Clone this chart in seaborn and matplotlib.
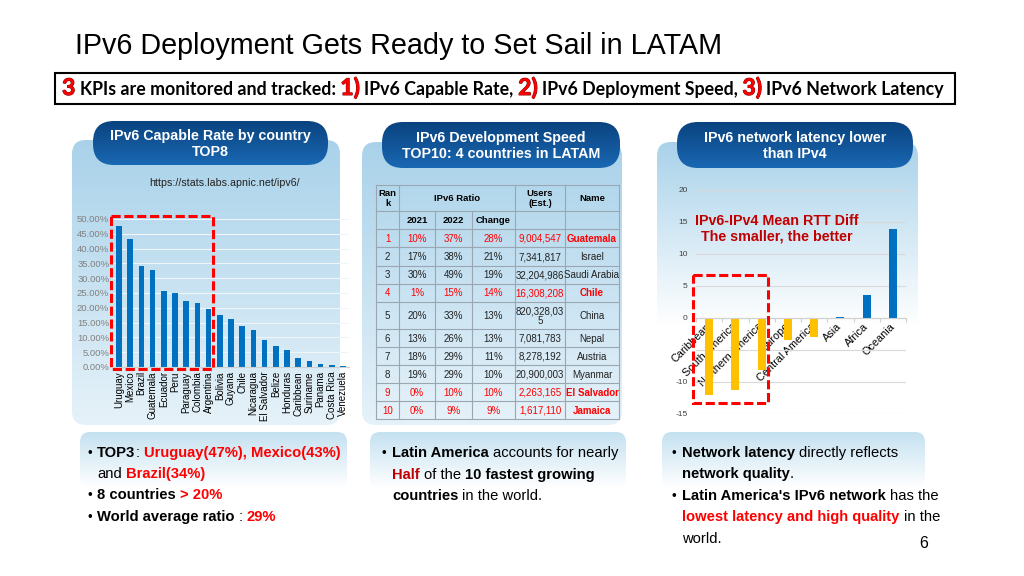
import numpy as np
import seaborn as sns
import matplotlib.pyplot as plt
import matplotlib.patheffects as pe
from matplotlib.patches import FancyBboxPatch, Rectangle
from matplotlib.colors import LinearSegmentedColormap

# ---- data ----
countries = ["Uruguay", "Mexico", "Brazil", "Guatemala", "Ecuador", "Peru", "Paraguay",
             "Colombia", "Argentina", "Bolivia", "Guyana", "Chile", "Nicaragua", "El Salvador",
             "Belize", "Honduras", "Caribbean", "Suriname", "Panama", "Costa Rica", "Venezuela"]
capable_rate = [47.5, 43.3, 34.2, 32.8, 25.6, 24.9, 22.3, 21.7, 19.6, 17.7, 16.1,
                13.7, 12.4, 9.2, 7.0, 5.8, 3.1, 2.0, 1.0, 0.7, 0.4]

regions = ["Caribbean", "South America", "Northern America", "Europe",
           "Central America", "Asia", "Africa", "Oceania"]
rtt_diff = [-12.0, -11.2, -8.1, -3.5, -3.0, 0.2, 3.6, 13.9]

rank = [1, 2, 3, 4, 5, 6, 7, 8, 9, 10]
ratio_2021 = ["10%", "17%", "30%", "1%", "20%", "13%", "18%", "19%", "0%", "0%"]
ratio_2022 = ["37%", "38%", "49%", "15%", "33%", "26%", "29%", "29%", "10%", "9%"]
ratio_change = ["28%", "21%", "19%", "14%", "13%", "13%", "11%", "10%", "10%", "9%"]
users = ["9,004,547", "7,341,817", "32,204,986", "16,308,208", "820,328,035",
         "7,081,783", "8,278,192", "20,900,003", "2,263,165", "1,617,110"]
names = ["Guatemala", "Israel", "Saudi Arabia", "Chile", "China", "Nepal",
         "Austria", "Myanmar", "El Salvador", "Jamaica"]
latam = [True, False, False, True, False, False, False, False, True, True]

W, H = 1024, 576
RED = "#ff0000"
BLUE = "#0070c0"
plt.rcParams['font.family'] = ['Liberation Sans', 'DejaVu Sans']

fig = plt.figure(figsize=(W / 100, H / 100), dpi=100)
renderer = fig.canvas.get_renderer()

bg = fig.add_axes([0, 0, 1, 1], zorder=0)
bg.axis('off')
ov = fig.add_axes([0, 0, 1, 1], zorder=10)
ov.axis('off')


def px_rect(x0, y0, x1, y1):
    return [x0 / W, 1 - y1 / H, (x1 - x0) / W, (y1 - y0) / H]


def panel(x0, y0, x1, y1, top, bottom, r=12, fade=1.0, z=0.5):
    box = FancyBboxPatch((x0, y0), x1 - x0, y1 - y0, fc='none', ec='none',
                         boxstyle=f"round,pad=0,rounding_size={r}")
    bg.add_patch(box)
    t = np.clip(np.linspace(0, 1, 256) / fade, 0, 1)[:, None]
    cmap = LinearSegmentedColormap.from_list('g', [top, bottom])
    im = bg.imshow(t, cmap=cmap, vmin=0, vmax=1, extent=[x0, x1, y1, y0],
                   aspect='auto', zorder=z)
    im.set_clip_path(box)


def text_w(s, **kw):
    t = bg.text(0, 0, s, **kw)
    w = t.get_window_extent(renderer).width
    t.remove()
    return w


def adv(s, **kw):
    # advance width of s, side bearings cancelled by the x...x sandwich
    return text_w('x' + s + 'x', **kw) - text_w('xx', **kw)


def draw_runs(x, y, runs, size, family='Liberation Sans', ax=bg, z=3):
    arts = []
    for run in runs:
        s, color, bold = run[:3]
        scale = run[3] if len(run) > 3 else 1.0
        kw = dict(fontsize=size * scale, family=family,
                  fontweight='bold' if bold else 'normal')
        lead = s[:len(s) - len(s.lstrip())]
        x0 = x + (adv(lead, **kw) if lead else 0)
        t = ax.text(x0, y, s.strip(), color=color, va='baseline', ha='left', zorder=z, **kw)
        if len(run) > 4:
            t.set_path_effects([pe.withStroke(linewidth=0.7, foreground=run[4])])
        arts.append(t)
        x += adv(s, **kw)
    return x, arts


def fit_runs(x0, x1, y, runs, size, **kw):
    end, arts = draw_runs(x0, y, runs, size, **kw)
    for a in arts:
        a.remove()
    draw_runs(x0, y, runs, size * (x1 - x0) / (end - x0), **kw)


bg.set_xlim(0, W)
bg.set_ylim(H, 0)
ov.set_xlim(0, W)
ov.set_ylim(H, 0)

# ---- title and KPI banner ----
fit_runs(75, 720, 54, [("IPv6 Deployment Gets Ready to Set Sail in LATAM", "black", False)], 20)
bg.add_patch(Rectangle((55, 73), 900, 31, fc='white', ec='black', lw=1.5, zorder=2))
DK = '#7a0000'
fit_runs(62, 940, 95, [("3", RED, True, 1.3, DK), (" KPIs are monitored and tracked: ", "black", True),
                        ("1)", RED, True, 1.3, DK), (" IPv6 Capable Rate, ", "black", True),
                        ("2)", RED, True, 1.3, DK), (" IPv6 Deployment Speed, ", "black", True),
                        ("3)", RED, True, 1.3, DK), (" IPv6 Network Latency", "black", True)],
         10.5, family='Lato')

# ---- panel backgrounds ----
panel(72, 140, 340, 425, '#a9d2ea', '#e6f2f9', r=14)
panel(362, 142, 622, 425, '#a9d2ea', '#e6f2f9', r=14)
panel(657, 142, 918, 425, '#a9d2ea', '#ffffff', r=14, fade=0.65)
for x0, x1 in [(80, 347), (370, 626), (662, 925)]:
    panel(x0, 432, x1, 488, '#c4e1f0', '#ffffff', r=10)

# header pills
pills = [(93, 121, 328, 165, "IPv6 Capable Rate by country\nTOP8"),
         (382, 122, 620, 168, "IPv6 Development Speed\nTOP10: 4 countries in LATAM"),
         (677, 122, 913, 168, "IPv6 network latency lower\nthan IPv4")]
for x0, y0, x1, y1, label in pills:
    panel(x0, y0, x1, y1, '#0a437f', '#1a68b3', r=21, z=1)
    bg.text((x0 + x1) / 2, (y0 + y1) / 2 + 1, label, color='white', fontsize=10.3,
            fontweight='bold', ha='center', va='center', linespacing=1.2, zorder=3)

# ---- left chart: IPv6 capable rate ----
bg.text(225, 183, "https://stats.labs.apnic.net/ipv6/", fontsize=7.7, ha='center',
        va='center', color='#222222', zorder=3)
ax1 = fig.add_axes(px_rect(113.4, 219, 348.6, 367), zorder=2)
sns.barplot(x=countries, y=capable_rate, color=BLUE, width=0.5, saturation=1, ax=ax1)
ax1.patch.set_alpha(0)
ax1.set_ylim(0, 50)
ax1.set_yticks(np.arange(0, 51, 5))
ax1.set_yticklabels([f"{v:.2f}%" for v in np.arange(0, 51, 5)])
ax1.set_axisbelow(True)
ax1.yaxis.grid(True, color='#eef6fb', lw=0.8)
ax1.tick_params(axis='y', length=0, labelsize=6.8, labelcolor='#808080', pad=3)
ax1.tick_params(axis='x', length=0, labelsize=7, rotation=90, pad=3)
for s in ['top', 'right', 'left']:
    ax1.spines[s].set_visible(False)
ax1.spines['bottom'].set_color('#d0d0d0')
ax1.set_xlabel('')
ax1.set_ylabel('')

# ---- middle: growth table ----
col_x = [376, 399, 435, 472, 515, 565, 619]
row_y = [185, 211, 229, 247, 266, 284, 302, 329, 347, 365, 383, 401, 419]
lc = '#9aa6b2'
for y in row_y:
    bg.plot([col_x[0], col_x[-1]], [y, y], color=lc, lw=0.8, zorder=2)
for i, x in enumerate(col_x):
    ytop = row_y[1] if i in (2, 3) else row_y[0]
    bg.plot([x, x], [ytop, row_y[-1]], color=lc, lw=0.8, zorder=2)


def cell(c0, c1, r, s, **kw):
    bg.text((col_x[c0] + col_x[c1]) / 2, (row_y[r] + row_y[r + 1]) / 2 + 0.5, s,
            ha='center', va='center', linespacing=1.0, zorder=3, **kw)


hdr = dict(fontsize=6.8, fontweight='bold')
cell(0, 1, 0, "Ran\nk", **hdr)
cell(1, 4, 0, "IPv6 Ratio", **hdr)
cell(4, 5, 0, "Users\n(Est.)", **hdr)
cell(5, 6, 0, "Name", **hdr)
cell(1, 2, 1, "2021", **hdr)
cell(2, 3, 1, "2022", **hdr)
cell(3, 4, 1, "Change", **hdr)
for i in range(len(rank)):
    c = RED if latam[i] else '#222222'
    u = users[i] if len(users[i]) <= 10 else users[i][:10] + "\n" + users[i][10:]
    for j, v in enumerate([str(rank[i]), ratio_2021[i], ratio_2022[i], ratio_change[i], u]):
        cell(j, j + 1, i + 2, v, fontsize=7, color=c)
    cell(5, 6, i + 2, names[i], fontsize=7, color=c,
         fontweight='bold' if latam[i] else 'normal')

# ---- right chart: RTT difference ----
bar_colors = ['#ffc000' if v < 0 else BLUE for v in rtt_diff]
ax2 = fig.add_axes(px_rect(696, 190, 906, 414), zorder=2)
sns.barplot(x=regions, y=rtt_diff, hue=regions, palette=bar_colors, width=0.3,
            saturation=1, legend=False, ax=ax2)
ax2.patch.set_alpha(0)
for s in ['top', 'right', 'left']:
    ax2.spines[s].set_visible(False)
ax2.spines['bottom'].set_position(('data', 0))
ax2.spines['bottom'].set_color('#d0d0d0')
ax2.set_ylim(-15, 20)
ax2.set_yticks(np.arange(-15, 21, 5))
ax2.set_yticklabels(['' if v == -5 else str(v) for v in np.arange(-15, 21, 5)])
ax2.set_axisbelow(True)
ax2.yaxis.grid(True, color='#d9d9d9', lw=0.8)
ax2.tick_params(axis='y', length=0, labelsize=6, labelcolor='#404040', pad=6)
ax2.set_xticks(range(len(regions)))
ax2.set_xticklabels(regions, rotation=45, ha='right', va='center', rotation_mode='anchor')
ax2.set_xticks(np.arange(-0.5, len(regions), 1), minor=True)
ax2.tick_params(axis='x', which='major', length=0, labelsize=7.8, pad=5)
ax2.tick_params(axis='x', which='minor', length=3, color='#d0d0d0', width=0.8)
ax2.set_xlabel('')
ax2.set_ylabel('')

ov.text(777, 229, "IPv6-IPv4 Mean RTT Diff\nThe smaller, the better", color='#c00000',
        fontsize=10.3, fontweight='bold', ha='center', va='center', linespacing=1.15)

# dashed highlight boxes
for x0, y0, x1, y1 in [(111, 216, 213, 369), (693, 275, 768, 403)]:
    ov.add_patch(Rectangle((x0, y0), x1 - x0, y1 - y0, fill=False, ec=RED, lw=2.2,
                           ls=(0, (3, 1.2))))

# ---- bottom notes ----
fs = 10.6
K, R, DR = "black", RED, "#c00000"
notes = [
    (87, 97, 457, True, [("TOP3", K, True), (":", K, False), (" Uruguay(47%), Mexico(43%)", R, True)]),
    (87, 97, 478, False, [("and", K, False), (" Brazil(34%)", R, True)]),
    (87, 97, 499, True, [("8 countries", K, True), (" > 20%", R, True)]),
    (87, 97, 521, True, [("World average ratio", K, True), (" : ", K, False), ("29%", R, True)]),
    (381, 392, 457, True, [("Latin America", K, True), (" accounts for nearly", K, False)]),
    (381, 392, 479, False, [("Half", DR, True), (" of the ", K, False), ("10 fastest growing", K, True)]),
    (381, 392, 500, False, [("countries", K, True), (" in the world.", K, False)]),
    (671, 682, 457, True, [("Network latency", K, True), (" directly reflects", K, False)]),
    (671, 682, 478, False, [("network quality", K, True), (".", K, False)]),
    (671, 682, 500, True, [("Latin America's IPv6 network", K, True), (" has the", K, False)]),
    (671, 682, 521, False, [("lowest latency and high quality", R, True), (" in the", K, False)]),
    (671, 682, 543, False, [("world.", K, False)]),
]
for xb, xt, y, bullet, runs in notes:
    if bullet:
        bg.text(xb, y, "•", fontsize=fs - 1, va='baseline', ha='left', zorder=3)
    draw_runs(xt, y, runs, fs)

bg.text(924, 543, "6", fontsize=11.5, ha='center', va='center', zorder=3)

fig.savefig("out.png", dpi=100)
